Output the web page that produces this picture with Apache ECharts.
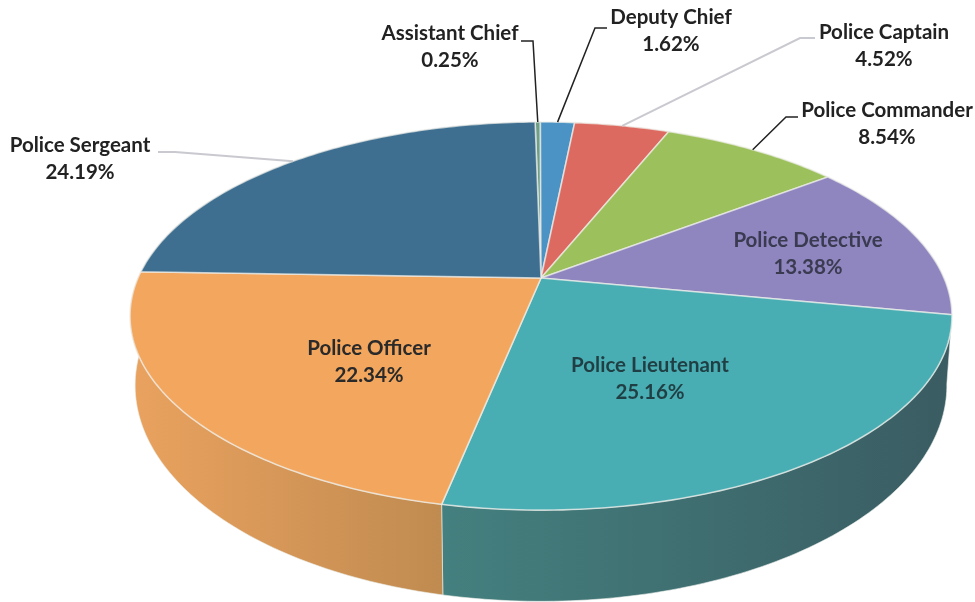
<!DOCTYPE html>
<html>
<head>
<meta charset="utf-8">
<style>html,body{margin:0;padding:0;background:#fff}#chart{width:975px;height:602px}</style>
<script src="https://cdn.jsdelivr.net/npm/echarts@6/dist/echarts.min.js"></script>
</head>
<body>
<div id="chart"></div>
<script>
const categories = ['Assistant Chief','Deputy Chief','Police Captain','Police Commander','Police Detective','Police Lieutenant','Police Officer','Police Sergeant'];
const percents = [0.25,1.62,4.52,8.54,13.38,25.16,22.34,24.19];

const topColors = ['#6f9f86','#4a93c4','#dc6a60','#9cc05c','#8f86c0','#49aeb3','#f2a65e','#3f6f90'];
const sideStops = {5:['#44807f','#3a5c62'],6:['#eaa25f','#c08b50']};
const labelPos = [[450,47,'#222'],[671,31,'#222'],[884,46,'#222'],[887,124,'#222'],[808,254,'#3a3a50'],[650,379,'#1f3f44'],[369,362,'#2a2a2a'],[80,159,'#222']];
const leaderBend = [[[521,41],[533,41]],[[607,28],[595,28]],[[815,38],[800,38]],[[798,117],[786,117]],null,null,null,[[158,152],[175,152]]];
const leaderColor = ['#222','#222','#c9c9d0','#222',null,null,null,'#c9c9d0'];

const CX=541, CY=278, K=0.196, A=403, B=186.6, START=-1;
const BOT = {a:398, b:207.7, cy:343};
const rad = d => d*Math.PI/180;
function topPt(t){const s=Math.sin(rad(t)),c=Math.cos(rad(t)),d=1+K*c;return [CX+A*s/d,CY-B*c/d];}
function botPt(t){const s=Math.sin(rad(t)),c=Math.cos(rad(t)),d=1+K*c;return [CX+BOT.a*s/d,BOT.cy-BOT.b*c/d];}
function cum(i){let v=0;for(let j=0;j<i;j++)v+=percents[j];return v;}
const ang = p => START+p*3.6;

function renderItem(params, api){
  const i=params.dataIndex, v=api.value(0);
  const a0=ang(cum(i)), a1=a0+v*3.6, n=Math.max(4,Math.ceil(a1-a0));
  const rim=[],low=[];
  for(let j=0;j<=n;j++){const t=a0+(a1-a0)*j/n;rim.push(topPt(t));low.push(botPt(t));}
  const kids=[];
  if(sideStops[i]){
    const xs=rim.concat(low).map(p=>p[0]);
    const x0=Math.min(...xs),x1=Math.max(...xs);
    const st=sideStops[i];
    kids.push({type:'polygon',z2:1,shape:{points:rim.concat(low.slice().reverse())},style:{
      fill:{type:'linear',x:x0,y:0,x2:x1,y2:0,global:true,colorStops:[{offset:0,color:st[0]},{offset:1,color:st[1]}]},
      stroke:'rgba(235,240,235,0.75)',lineWidth:0.8}});
  }
  kids.push({type:'polygon',z2:2,shape:{points:[[CX,CY]].concat(rim)},style:{fill:topColors[i],stroke:'rgba(240,240,235,0.7)',lineWidth:1.6}});
  if(leaderBend[i]){
    const end=topPt((a0+a1)/2);
    kids.push({type:'polyline',z2:3,shape:{points:leaderBend[i].concat([end])},style:{fill:null,stroke:leaderColor[i],lineWidth:leaderColor[i]==='#222'?1.5:2}});
  }
  const lp=labelPos[i];
  kids.push({type:'text',z2:4,style:{text:categories[i]+'\n'+v.toFixed(2)+'%',x:lp[0],y:lp[1],align:'center',verticalAlign:'middle',
    fill:lp[2],fontFamily:'Lato',fontWeight:'bold',fontSize:20.5,lineHeight:27}});
  return {type:'group',children:kids};
}

const chart=echarts.init(document.getElementById('chart'),null,{renderer:'canvas'});
chart.setOption({
  animation:false,
  backgroundColor:'#ffffff',
  series:[{type:'custom',coordinateSystem:'none',silent:true,renderItem,
    data:percents.map((p,i)=>({name:categories[i],value:[p]}))}]
});
</script>
</body>
</html>
